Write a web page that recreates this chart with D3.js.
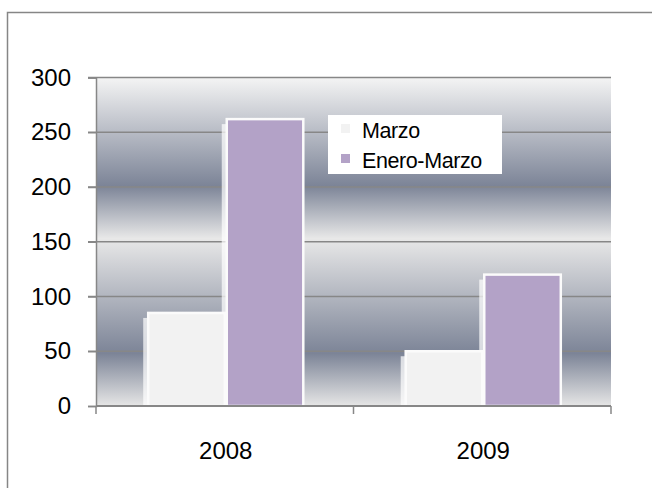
<!DOCTYPE html>
<html>
<head>
<meta charset="utf-8">
<script src="https://cdn.jsdelivr.net/npm/d3@7"></script>
<style>
  body { margin: 0; background: #fff; }
  text { font-family: "Liberation Sans", Arial, sans-serif; fill: #000; }
</style>
</head>
<body>
<svg id="chart" width="652" height="488"></svg>
<script>
// data
var years = ["2008", "2009"];
var seriesNames = ["Marzo", "Enero-Marzo"];
var marzo = [85, 50];
var eneroMarzo = [262, 120];
var yTicks = [0, 50, 100, 150, 200, 250, 300];

var colors = ["#f2f2f2", "#b3a2c7"];
var margin = {left: 96, right: 41, top: 77.5, bottom: 82};
var W = 652, H = 488;

var svg = d3.select("#chart");

// outer frame
svg.append("rect")
  .attr("x", 7.5).attr("y", 12.5)
  .attr("width", 700).attr("height", 600)
  .attr("fill", "#fff")
  .attr("stroke", "#868686").attr("stroke-width", 1.5);

var x0 = d3.scaleBand().domain(years)
  .range([margin.left, W - margin.right])
  .paddingInner(0.39).paddingOuter(0.195);
var x1 = d3.scaleBand().domain(seriesNames).range([0, x0.bandwidth()]);
var y = d3.scaleLinear().domain([0, 300]).range([H - margin.bottom, margin.top]);

// background gradient
var defs = svg.append("defs");
var grad = defs.append("linearGradient").attr("id", "bg")
  .attr("x1", 0).attr("y1", 0).attr("x2", 0).attr("y2", 1);
[[0, "#f4f4f4"], [0.33, "#7c8497"], [0.49, "#e8e8e8"], [0.84, "#7c8497"], [1, "#e6e6e6"]]
  .forEach(function(s) { grad.append("stop").attr("offset", s[0]).attr("stop-color", s[1]); });

svg.append("rect")
  .attr("x", x0.range()[0]).attr("y", y(300))
  .attr("width", x0.range()[1] - x0.range()[0])
  .attr("height", y(0) - y(300))
  .attr("fill", "url(#bg)");

// gridlines
svg.append("g").selectAll("line").data(yTicks.filter(function(d){ return d > 0; }))
  .enter().append("line")
  .attr("x1", margin.left - 8).attr("x2", W - margin.right)
  .attr("y1", function(d){ return y(d); }).attr("y2", function(d){ return y(d); })
  .attr("stroke", "#878787").attr("stroke-width", 1.5);

// y axis
var yAxis = svg.append("g").attr("transform", "translate(" + margin.left + ",0)")
  .call(d3.axisLeft(y).tickValues(yTicks).tickSize(8).tickPadding(17));
yAxis.select(".domain").attr("stroke", "#878787").attr("stroke-width", 1.5);
yAxis.selectAll(".tick line").attr("stroke", "#878787").attr("stroke-width", 1.5);
yAxis.selectAll(".tick text").attr("font-size", 24).attr("font-family", "Liberation Sans, Arial, sans-serif");

// bars
var groups = svg.append("g").selectAll("g").data(years).enter().append("g")
  .attr("transform", function(d){ return "translate(" + x0(d) + ",0)"; });

var vals = [marzo, eneroMarzo];
groups.selectAll("rect.shadow")
  .data(function(d, i){ return seriesNames.map(function(s, j){ return {s: s, v: vals[j][i], j: j}; }); })
  .enter().append("rect").attr("class", "shadow")
  .attr("x", function(d){ return x1(d.s) - 3; })
  .attr("y", function(d){ return y(d.v) + 5; })
  .attr("width", x1.bandwidth())
  .attr("height", function(d){ return y(0) - y(d.v) - 5; })
  .attr("fill", "#ffffff").attr("opacity", 0.7);

groups.selectAll("rect.bar")
  .data(function(d, i){ return seriesNames.map(function(s, j){ return {s: s, v: vals[j][i], j: j}; }); })
  .enter().append("rect").attr("class", "bar")
  .attr("x", function(d){ return x1(d.s) + 2; })
  .attr("y", function(d){ return y(d.v); })
  .attr("width", x1.bandwidth() - 2)
  .attr("height", function(d){ return y(0) - y(d.v); })
  .attr("fill", function(d){ return colors[d.j]; })
  .attr("stroke", "#fbfbfb").attr("stroke-width", 2.5);

// x axis
var xTickScale = d3.scaleLinear().domain([0, 2]).range(x0.range());
var xAxisG = svg.append("g");
xAxisG.append("line")
  .attr("x1", margin.left).attr("x2", W - margin.right)
  .attr("y1", y(0)).attr("y2", y(0))
  .attr("stroke", "#878787").attr("stroke-width", 2);
xAxisG.selectAll("line.tk").data([0, 1, 2]).enter().append("line")
  .attr("x1", function(d){ return xTickScale(d); }).attr("x2", function(d){ return xTickScale(d); })
  .attr("y1", y(0)).attr("y2", y(0) + 8)
  .attr("stroke", "#878787").attr("stroke-width", 1.5);
xAxisG.selectAll("text").data(years).enter().append("text")
  .attr("x", function(d){ return x0(d) + x0.bandwidth() / 2 + 1; })
  .attr("y", y(0) + 53)
  .attr("text-anchor", "middle")
  .attr("font-size", 24)
  .text(function(d){ return d; });

// legend
var leg = svg.append("g").attr("transform", "translate(328,115)");
leg.append("rect").attr("width", 174).attr("height", 59).attr("fill", "#fff");
var li = leg.selectAll("g").data(seriesNames).enter().append("g")
  .attr("transform", function(d, i){ return "translate(0," + (i * 30) + ")"; });
li.append("rect").attr("x", 13).attr("y", 9).attr("width", 9).attr("height", 9)
  .attr("fill", function(d, i){ return colors[i]; });
li.append("text").attr("x", 34).attr("y", 23).attr("font-size", 21.5)
  .attr("letter-spacing", -0.4)
  .text(function(d){ return d; });
</script>
</body>
</html>
